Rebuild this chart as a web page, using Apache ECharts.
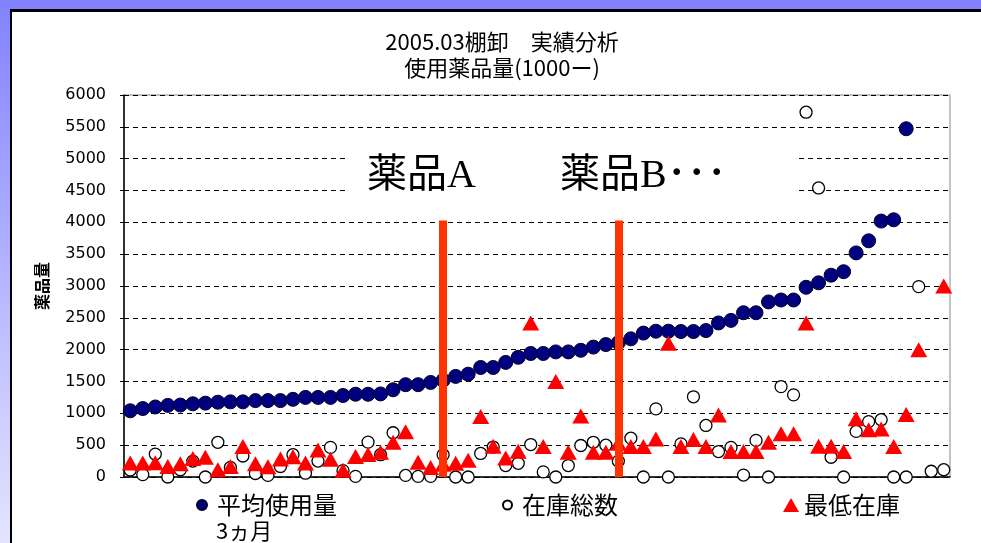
<!DOCTYPE html>
<html>
<head>
<meta charset="utf-8">
<script src="https://cdn.jsdelivr.net/npm/echarts@6/dist/echarts.min.js"></script>
<style>
html,body{margin:0;padding:0;width:981px;height:543px;overflow:hidden;}
body{background:linear-gradient(to bottom,#8282ff 0%,#b4b4ff 50%,#e4e4ff 100%);position:relative;}
#panel{position:absolute;left:10px;top:9px;width:971px;height:540px;background:#fff;border-left:2px solid #000;border-top:3px solid #000;}
#chart{position:absolute;left:0;top:0;width:981px;height:543px;}
</style>
</head>
<body>
<div id="panel"></div>
<div id="chart"></div>
<script>
// ---- data ----
const categories = ['1','2','3','4','5','6','7','8','9','10','11','12','13','14','15','16','17','18','19','20','21','22','23','24','25','26','27','28','29','30','31','32','33','34','35','36','37','38','39','40','41','42','43','44','45','46','47','48','49','50','51','52','53','54','55','56','57','58','59','60','61','62','63','64','65','66'];
const avgUse = [1040,1075,1100,1125,1130,1150,1160,1175,1180,1180,1200,1200,1200,1220,1250,1250,1250,1280,1300,1300,1305,1370,1450,1450,1485,1520,1580,1615,1720,1720,1800,1880,1940,1940,1965,1965,1990,2040,2080,2110,2170,2260,2290,2290,2285,2285,2300,2420,2460,2580,2580,2750,2780,2780,2980,3050,3170,3225,3520,3710,4020,4040,5470,null,null,null];
const stockTotal = [110,37,360,0,115,250,0,545,150,330,55,25,165,350,60,250,465,100,10,548,350,695,25,10,10,350,0,0,370,470,180,215,510,80,0,180,495,545,500,250,610,0,1070,0,520,1260,810,400,465,30,575,0,1420,1290,5730,4540,310,0,716,870,900,0,0,2990,90,115];
const minStock = [218,218,222,165,210,290,310,112,165,478,210,160,282,320,218,425,280,107,323,355,387,545,710,230,150,200,215,265,952,484,300,403,2420,480,1500,390,958,390,390,530,480,480,595,2100,480,590,480,975,400,400,402,547,680,680,2420,484,484,402,915,742,752,480,980,2000,null,3000];
const yTicks = {min:0, max:6000, interval:500};
const seriesNames = ['平均使用量','在庫総数','最低在庫'];
const legendSub = '3ヵ月';
const titleLines = ['2005.03棚卸　実績分析','使用薬品量(1000ー)'];
const yName = '薬品量';
const notes = ['薬品A','薬品B･･･'];
const dividerCats = ['26','40'];
const dividerTop = 4030;

const cjk = '"Noto Sans CJK JP", sans-serif';
const chart = echarts.init(document.getElementById('chart'), null, {renderer:'canvas'});
chart.setOption({
  backgroundColor: 'transparent',
  animation: false,
  title: {
    text: titleLines.join('\n'),
    left: 497, top: 24, textAlign: 'center',
    textStyle: {fontFamily: cjk, fontSize: 22, fontWeight: 'normal', color: '#000', lineHeight: 26}
  },
  grid: {left: 124, right: 31, top: 95, bottom: 66, show: true, borderColor: '#888', borderWidth: 1, backgroundColor: 'transparent'},
  xAxis: {
    type: 'category', data: categories, boundaryGap: true,
    axisLine: {show: true, lineStyle: {color: '#000', width: 1.5}},
    axisTick: {show: false}, axisLabel: {show: false}, splitLine: {show: false}
  },
  yAxis: {
    type: 'value', min: yTicks.min, max: yTicks.max, interval: yTicks.interval,
    name: yName, nameLocation: 'middle', nameGap: 74,
    nameTextStyle: {fontFamily: cjk, fontSize: 16, fontWeight: 'bold', color: '#000'},
    axisLine: {show: true, lineStyle: {color: '#000', width: 1.5}},
    axisTick: {show: true, inside: false, length: 4, lineStyle: {color: '#000'}},
    axisLabel: {margin: 18, fontFamily: '"DejaVu Sans", sans-serif', fontSize: 16, color: '#000', formatter: v => String(v)},
    splitLine: {show: true, lineStyle: {color: '#000', type: [5, 4], width: 1}}
  },
  legend: [
    {data: [seriesNames[0]], left: 196, top: 493, padding: 0, itemWidth: 10, itemHeight: 10,
     textStyle: {fontFamily: cjk, fontSize: 24, color: '#000', padding: [0,0,0,5]}},
    {data: [seriesNames[1]], left: 502, top: 493, padding: 0, itemWidth: 9, itemHeight: 9,
     textStyle: {fontFamily: cjk, fontSize: 24, color: '#000', padding: [0,0,0,5]}},
    {data: [seriesNames[2]], left: 783, top: 493, padding: 0, itemWidth: 16, itemHeight: 14,
     textStyle: {fontFamily: cjk, fontSize: 24, color: '#000'}}
  ],
  graphic: [
    {type: 'rect', z: 1, shape: {x: 347, y: 140, width: 448, height: 64}, style: {fill: '#fff'}, silent: true},
    {type: 'text', z: 2, x: 367, y: 176, style: {text: notes[0], fontFamily: '"Liberation Serif", "Noto Sans CJK JP", serif', fontSize: 40, fill: '#000', verticalAlign: 'middle'}},
    {type: 'text', z: 2, x: 560, y: 176, style: {text: notes[1], fontFamily: '"Liberation Serif", "Noto Sans CJK JP", serif', fontSize: 40, fill: '#000', verticalAlign: 'middle'}},
    {type: 'text', z: 2, x: 216, y: 531, style: {text: legendSub, fontFamily: cjk, fontSize: 22, fill: '#000', verticalAlign: 'middle'}}
  ],
  series: [
    {name: seriesNames[0], type: 'scatter', data: avgUse, symbol: 'circle', symbolSize: 14, z: 2,
     itemStyle: {color: '#000080', borderColor: '#000022', borderWidth: 1, opacity: 1}},
    {name: seriesNames[1], type: 'scatter', data: stockTotal, symbol: 'circle', symbolSize: 12, z: 3,
     itemStyle: {color: '#fff', borderColor: '#000', borderWidth: 1.3, opacity: 1}},
    {name: seriesNames[2], type: 'scatter', data: minStock, symbol: 'triangle', symbolSize: [17, 15], z: 4,
     itemStyle: {color: '#ff0000', opacity: 1},
     markLine: {silent: true, symbol: 'none', label: {show: false}, animation: false,
       lineStyle: {color: '#ff3300', width: 8, type: 'solid', opacity: 1},
       data: dividerCats.map(c => [{coord: [c, dividerTop]}, {coord: [c, 0]}])}}
  ]
});
</script>
</body>
</html>
